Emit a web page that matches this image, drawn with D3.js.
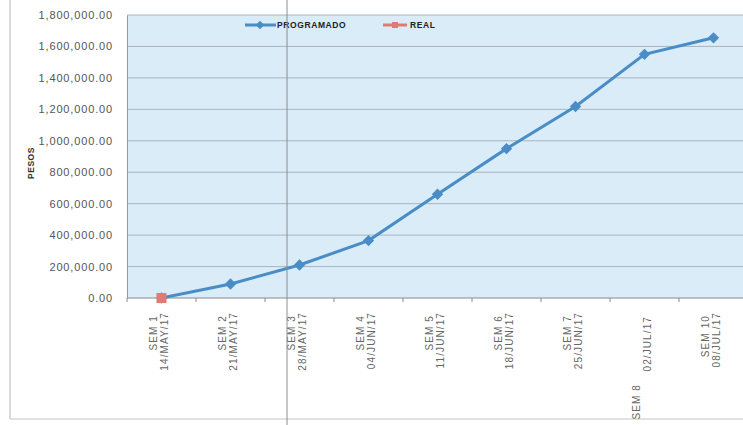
<!DOCTYPE html>
<html><head><meta charset="utf-8">
<script src="https://cdn.jsdelivr.net/npm/d3@7"></script>
<style>body{margin:0;background:#fff}svg{display:block}</style>
</head><body>
<script>
const weeks = ["SEM 1","SEM 2","SEM 3","SEM 4","SEM 5","SEM 6","SEM 7","SEM 8","SEM 10"];
const dates = ["14/MAY/17","21/MAY/17","28/MAY/17","04/JUN/17","11/JUN/17","18/JUN/17","25/JUN/17","02/JUL/17","08/JUL/17"];
const programado = [0, 89000, 210000, 365000, 660000, 950000, 1218000, 1550000, 1655000];
const real = [0];
const yTicks = [0,200000,400000,600000,800000,1000000,1200000,1400000,1600000,1800000];

const W = 743, H = 425;
const svg = d3.select("body").append("svg").attr("width", W).attr("height", H);
svg.append("rect").attr("width", W).attr("height", H).attr("fill", "#fff");

const plot = {left:127, right:748, top:15, bottom:298};
const x = d3.scaleBand().domain(weeks).range([plot.left, plot.right]);
const y = d3.scaleLinear().domain([0,1800000]).range([plot.bottom, plot.top]);
const font = "Liberation Sans, Arial, sans-serif";

// outer frame (partial, as in scan)
svg.append("line").attr("x1",10).attr("x2",10).attr("y1",0).attr("y2",419).attr("stroke","#b8b8b8");
svg.append("line").attr("x1",10).attr("x2",743).attr("y1",419).attr("y2",419).attr("stroke","#c4c4c4");

// plot background
svg.append("rect").attr("x",plot.left).attr("y",plot.top).attr("width",plot.right-plot.left).attr("height",plot.bottom-plot.top).attr("fill","#d9ecf7");

// gridlines
svg.append("g").selectAll("line").data(yTicks).join("line")
  .attr("x1",plot.left).attr("x2",plot.right)
  .attr("y1",d=>y(d)).attr("y2",d=>y(d))
  .attr("stroke",d=>d===0?"#8a8a8a":"#aab5bd").attr("stroke-width",1);

// y axis
const fmt = d3.format(",.2f");
const yAxis = d3.axisLeft(y).tickValues(yTicks).tickFormat(fmt).tickSize(0).tickPadding(14);
const gy = svg.append("g").attr("transform",`translate(${plot.left},0)`).call(yAxis);
gy.select(".domain").attr("stroke","#9a9a9a");
gy.selectAll("text").attr("font-family",font).attr("font-size",11).attr("letter-spacing",0.85).attr("fill","#555");

// x axis ticks between categories
const bandEdges = weeks.map((w)=>x(w));
svg.append("g").selectAll("line").data(bandEdges).join("line")
  .attr("x1",d=>d).attr("x2",d=>d).attr("y1",plot.bottom).attr("y2",plot.bottom+4)
  .attr("stroke","#8a8a8a");

// x labels, rotated
const lab = svg.append("g").selectAll("g").data(weeks).join("g")
  .attr("transform",(d)=>`translate(${x(d)+x.bandwidth()/2},312) rotate(-90)`);
lab.each(function(d,i){
  const g = d3.select(this);
  const t = (xx,yy,s)=>g.append("text").attr("x",xx).attr("y",yy).attr("text-anchor","end")
      .attr("font-family",font).attr("font-size",10).attr("letter-spacing",1.1).attr("fill","#666").text(s);
  if (d === "SEM 8") {
    t(-72,-5,d);
    t(-4,6,dates[i]);
  } else {
    t(-3,-5,d);
    t(0,6,dates[i]);
  }
});

// y title
svg.append("text").attr("transform","translate(34,163) rotate(-90)").attr("text-anchor","middle")
  .attr("font-family",font).attr("font-size",8.5).attr("font-weight","bold").attr("letter-spacing",0.5).attr("fill","#333").text("PESOS");

// series PROGRAMADO
const blue = "#4a8dc6";
const red = "#e07b74";
const cx = (i)=>x(weeks[i])+x.bandwidth()/2;
const line = d3.line().x((d,i)=>cx(i)).y(d=>y(d));
svg.append("path").datum(programado).attr("d",line).attr("fill","none").attr("stroke",blue).attr("stroke-width",3);
svg.append("g").selectAll("rect").data(programado).join("rect")
  .attr("x",-4).attr("y",-4).attr("width",8).attr("height",8).attr("fill",blue)
  .attr("transform",(d,i)=>`translate(${cx(i)},${y(d)}) rotate(45)`);

// series REAL
svg.append("g").selectAll("rect").data(real).join("rect")
  .attr("x",(d,i)=>cx(i)-5).attr("y",d=>y(d)-5)
  .attr("width",10).attr("height",10).attr("fill",red);

// legend
const lg = svg.append("g").attr("font-family",font).attr("font-size",8.5).attr("font-weight","bold").attr("letter-spacing",0.6).attr("fill","#222");
lg.append("line").attr("x1",245).attr("x2",276).attr("y1",25).attr("y2",25).attr("stroke",blue).attr("stroke-width",3);
lg.append("rect").attr("x",-3).attr("y",-3).attr("width",6).attr("height",6).attr("fill",blue).attr("transform","translate(260,25) rotate(45)");
lg.append("text").attr("x",277).attr("y",28).text("PROGRAMADO");
lg.append("line").attr("x1",383).attr("x2",407).attr("y1",25).attr("y2",25).attr("stroke",red).attr("stroke-width",3);
lg.append("rect").attr("x",392).attr("y",22).attr("width",6).attr("height",6).attr("fill",red);
lg.append("text").attr("x",410).attr("y",28).text("REAL");

// scan fold line
svg.append("line").attr("x1",287).attr("x2",287).attr("y1",0).attr("y2",H).attr("stroke","#8e8e8e").attr("stroke-width",1);
</script>
</body></html>
